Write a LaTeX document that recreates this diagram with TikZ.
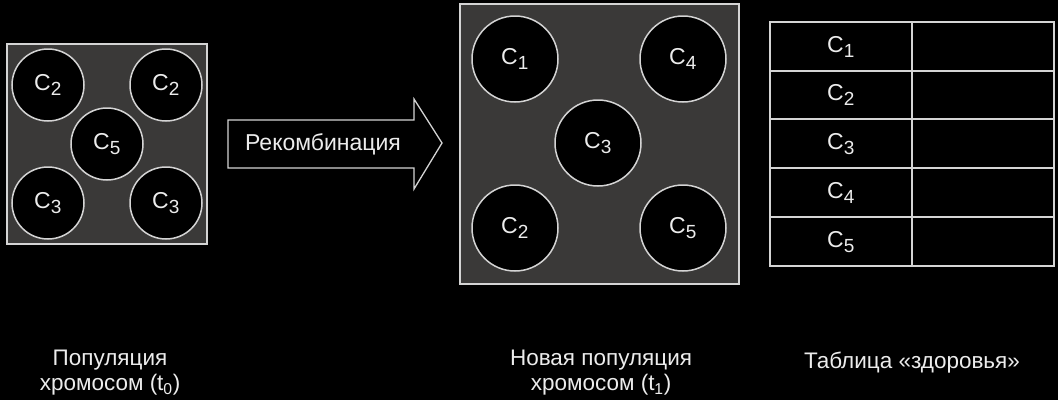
\documentclass[tikz,border=0pt]{standalone}
\usepackage{fontspec}
\setmainfont{Liberation Sans}
\begin{document}
\begin{tikzpicture}[x=1pt,y=-1pt,
  every node/.style={text=txt, font=\fontsize{23}{26}\selectfont},
  popbox/.style={draw=edge, line width=2pt, fill=boxfill},
  chromS/.style={circle, draw=edge, line width=1.5pt, fill=black, minimum size=72pt, inner sep=0pt},
  chromL/.style={circle, draw=edge, line width=1.5pt, fill=black, minimum size=86pt, inner sep=0pt},
  gridline/.style={draw=edge, line width=1.2pt},
  caption/.style={align=center, font=\fontsize{22.5}{25}\selectfont}
]
\definecolor{edge}{HTML}{D4D4D4}
\definecolor{boxfill}{HTML}{3A3938}
\definecolor{txt}{HTML}{ECECEC}
\definecolor{bg}{HTML}{000000}
\newcommand{\cs}[1]{C\textsubscript{\fontsize{19}{19}\selectfont #1}}
\useasboundingbox (0,0) rectangle (1058,400);
\fill[bg] (0,0) rectangle (1058,400);

% left population
\draw[popbox] (7,44) rectangle (207,244);
\node[chromS] (a1) at (48,85) {\cs{2}};
\node[chromS] (a2) at (166,85) {\cs{2}};
\node[chromS] (a3) at (107,144) {\cs{5}};
\node[chromS] (a4) at (48,203) {\cs{3}};
\node[chromS] (a5) at (166,203) {\cs{3}};

% arrow
\draw[draw=edge, line width=1.3pt] (228,120) -- (414,120) -- (414,99) -- (442,143) -- (414,189) -- (414,168) -- (228,168) -- cycle;
\node (rec) at (323,144) {Рекомбинация};

% middle population
\draw[popbox] (460,4) rectangle (739,284);
\node[chromL] (b1) at (515,59) {\cs{1}};
\node[chromL] (b4) at (683,59) {\cs{4}};
\node[chromL] (b3) at (598,143) {\cs{3}};
\node[chromL] (b2) at (515,228) {\cs{2}};
\node[chromL] (b5) at (683,228) {\cs{5}};

% table
\draw[gridline] (770,22) rectangle (1054,266);
\draw[gridline] (912,22) -- (912,266);
\foreach \y in {71,119,168,217} \draw[gridline] (770,\y) -- (1054,\y);
\node (t1) at (841,47) {\cs{1}};
\node (t2) at (841,95) {\cs{2}};
\node (t3) at (841,144) {\cs{3}};
\node (t4) at (841,193) {\cs{4}};
\node (t5) at (841,242) {\cs{5}};

% captions
\node[caption] (l1) at (110,373) {Популяция\\хромосом (t\textsubscript{0})};
\node[caption] (l2) at (601,373) {Новая популяция\\хромосом (t\textsubscript{1})};
\node[caption, anchor=north] (l3) at (912,348) {Таблица «здоровья»};
\end{tikzpicture}
\end{document}
